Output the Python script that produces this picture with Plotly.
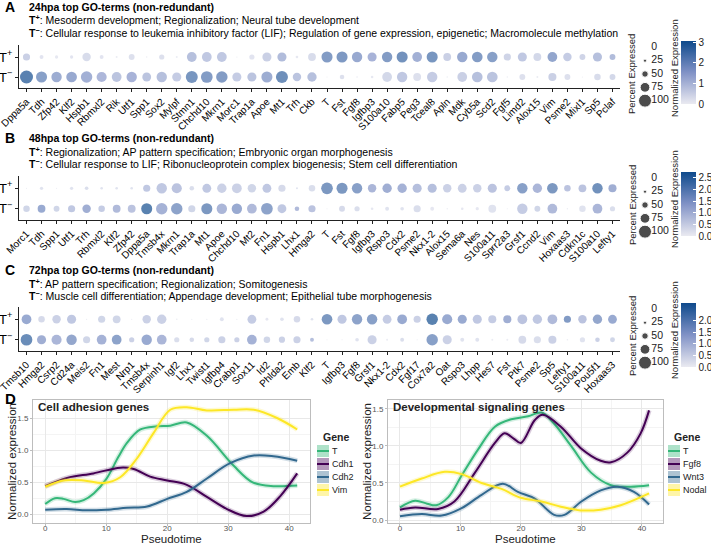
import plotly.graph_objects as go

FONT = "Liberation Sans, Arial, sans-serif"
W, H = 711, 546

# ---- panel A: 24hpa ----
genes_24 = ["Dppa5a", "Tdh", "Zfp42", "Klf2", "Hspb1", "Rbmxl2", "Rik", "Utf1", "Spp1", "Sox2",
            "Mylpf", "Stmn1", "Chchd10", "Mkrn1", "Morc1", "Trap1a", "Apoe", "Mt1", "Trh", "Ckb",
            "T", "Fst", "Fgf8", "Igfbp3", "S100a10", "Fabp5", "Peg3", "Tceal8", "Apln", "Mdk",
            "Cyb5a", "Scd2", "Fgf5", "Limd2", "Alox15", "Vim", "Psme2", "Mixl1", "Sp5", "Pclaf"]
expr_24_pos = [0.8, 0.3, 0.2, 0.3, 0.5, 0.3, 0.1, 0.4, 0.1, 0.4,
               0.1, 1.2, 1.0, 1.0, 0.1, 0.3, 0.8, 1.3, 0.2, 0.5,
               2.2, 2.3, 1.8, 1.5, 2.2, 2.5, 1.6, 2.4, 0.8, 1.8,
               2.2, 2.1, 0.7, 1.0, 0.6, 1.9, 0.9, 0.7, 1.2, 1.3]
pct_24_pos = [55, 30, 25, 25, 65, 30, 15, 45, 10, 40,
              15, 75, 75, 75, 5, 40, 70, 70, 20, 60,
              85, 85, 80, 70, 80, 85, 75, 85, 60, 80,
              82, 80, 55, 70, 60, 75, 65, 45, 70, 45]
expr_24_neg = [3.0, 2.1, 1.7, 1.8, 1.6, 1.4, 1.1, 1.5, 1.1, 1.2,
               0.9, 2.4, 2.2, 2.2, 0.9, 1.1, 1.7, 2.6, 1.1, 1.2,
               0.0, 0.4, 0.1, 0.2, 0.6, 1.0, 0.4, 0.9, 0.1, 0.8,
               1.2, 1.1, 0.1, 0.4, 0.1, 0.8, 0.4, 0.05, 0.5, 0.6]
pct_24_neg = [100, 85, 80, 82, 88, 78, 75, 80, 68, 80,
              70, 92, 90, 88, 70, 70, 85, 92, 65, 72,
              2, 35, 12, 20, 75, 80, 60, 80, 10, 75,
              82, 82, 10, 45, 15, 62, 45, 5, 50, 45]

# ---- panel B: 48hpa ----
genes_48 = ["Morc1", "Tdh", "Spp1", "Utf1", "Trh", "Rbmxl2", "Klf2", "Zfp42", "Dppa5a", "Tmsb4x",
            "Mkrn1", "Trap1a", "Mt1", "Apoe", "Chchd10", "Mt2", "Fn1", "Hspb1", "Lhx1", "Hmga2",
            "T", "Fst", "Fgf8", "Igfbp3", "Rspo3", "Cdx2", "Psme2", "Nkx1\u20112", "Alox15", "Sema6a",
            "Nes", "S100a11", "Sprr2a3", "Grsf1", "Ccnd2", "Vim", "Hoxaas3", "Cdkn1c", "S100a10", "Lefty1"]
expr_48_pos = [0.05, 0.3, 0.05, 0.3, 0.4, 0.3, 0.3, 0.3, 0.9, 0.9,
               1.0, 0.4, 0.9, 0.7, 0.7, 0.6, 0.9, 0.5, 0.3, 0.4,
               2.1, 2.1, 1.9, 1.3, 1.5, 1.4, 1.1, 1.1, 0.7, 0.7,
               0.7, 1.0, 0.8, 1.9, 1.3, 2.1, 1.0, 1.0, 2.3, 1.5]
pct_48_pos = [5, 25, 5, 25, 28, 20, 20, 20, 55, 80,
              78, 35, 68, 72, 75, 65, 68, 55, 15, 50,
              90, 85, 80, 65, 72, 72, 70, 70, 65, 68,
              65, 70, 45, 80, 72, 82, 50, 60, 80, 62]
expr_48_neg = [0.6, 1.6, 0.6, 0.9, 1.5, 0.8, 1.2, 1.0, 2.7, 1.4,
               1.8, 0.6, 2.1, 1.3, 1.6, 1.2, 1.8, 0.9, 1.2, 1.0,
               0.0, 0.5, 0.4, 0.2, 0.3, 0.3, 0.4, 0.2, 0.1, 0.2,
               0.2, 0.3, 0.05, 0.8, 0.6, 1.2, 0.1, 0.3, 1.3, 0.4]
pct_48_neg = [50, 60, 45, 55, 65, 50, 60, 60, 85, 88,
              88, 55, 85, 80, 80, 75, 90, 68, 35, 55,
              3, 45, 40, 20, 30, 28, 55, 30, 10, 20,
              25, 60, 5, 80, 45, 75, 10, 50, 75, 40]

# ---- panel C: 72hpa ----
genes_72 = ["Tmsb10", "Hmga2", "Csrp2", "Cd24a", "Meis2", "Fn1", "Mest", "Nrp1", "Tmsb4x", "Serpinh1",
            "Igf2", "Lhx1", "Twist1", "Igfbp4", "Crabp1", "Sox11", "Id2", "Phlda2", "Emb", "Klf2",
            "T", "Igfbp3", "Fgf8", "Grsf1", "Nkx1\u20112", "Cdx2", "Fgf17", "Cox7a2", "Oat", "Rspo3",
            "Lhpp", "Hes7", "Fst", "Ptk7", "Psme2", "Sp5", "Lefty1", "S100a11", "Pou5f1", "Hoxaas3"]
expr_72_pos = [1.6, 0.5, 0.7, 0.9, 0.1, 0.6, 0.6, 0.05, 0.7, 0.7,
               0.1, 0.05, 0.1, 0.3, 0.1, 0.8, 0.2, 0.3, 0.5, 0.3,
               2.1, 0.9, 1.8, 1.9, 0.8, 1.6, 0.7, 2.7, 1.6, 1.6,
               0.9, 0.8, 1.5, 1.0, 0.9, 1.2, 2.0, 1.0, 1.7, 1.6]
pct_72_pos = [75, 50, 65, 70, 10, 55, 60, 5, 65, 72,
              12, 5, 10, 30, 10, 68, 22, 28, 50, 20,
              82, 70, 80, 80, 68, 75, 55, 88, 78, 70,
              70, 62, 62, 75, 72, 75, 55, 65, 72, 68]
expr_72_neg = [2.4, 1.5, 1.3, 1.7, 0.6, 1.4, 1.8, 0.7, 1.6, 1.3,
               0.4, 0.5, 0.6, 0.7, 0.7, 1.4, 0.6, 0.7, 0.7, 1.1,
               0.0, 0.05, 0.3, 0.7, 0.1, 0.4, 0.05, 1.9, 0.7, 0.3,
               0.3, 0.1, 0.1, 0.5, 0.4, 0.7, 0.1, 0.3, 0.7, 0.6]
pct_72_neg = [90, 70, 78, 80, 55, 75, 75, 40, 80, 75,
              40, 35, 40, 55, 40, 75, 50, 48, 55, 30,
              2, 5, 28, 70, 15, 30, 8, 88, 70, 30,
              30, 15, 15, 60, 55, 62, 12, 40, 35, 38]

pct_legend = [0, 25, 50, 75, 100]

# ---- panel D: smoothed trajectories ----
adh_T_t = [0, 1.6, 3, 4.9, 6.3, 8, 10, 12, 13.4, 15.6, 18.3, 20.5, 23.2, 26.5, 30.9, 34, 37.4, 41.3]
adh_T_v = [0.16, 0.25, 0.24, 0.19, 0.22, 0.33, 0.55, 0.9, 1.12, 1.33, 1.38, 1.39, 1.44, 1.23, 0.76, 0.5, 0.44, 0.45]
adh_Cdh1_t = [0, 3.6, 7.9, 12.3, 14.5, 17.2, 20, 23.2, 26.5, 29.8, 33, 35.8, 38.5, 41.3]
adh_Cdh1_v = [0.44, 0.57, 0.64, 0.73, 0.71, 0.59, 0.53, 0.46, 0.27, 0.08, -0.03, 0.04, 0.28, 0.64]
adh_Cdh2_t = [0, 3.5, 6.8, 10, 13.4, 16.7, 20, 23.2, 26.5, 30.3, 34.2, 37.4, 41.3]
adh_Cdh2_v = [0.07, 0.08, 0.06, 0.07, 0.1, 0.12, 0.24, 0.35, 0.56, 0.8, 0.92, 0.91, 0.84]
adh_Vim_t = [0, 3, 6.3, 9.6, 12.3, 15, 17.8, 20.5, 23.2, 26.5, 30.9, 34.2, 38, 41.3]
adh_Vim_v = [0.43, 0.53, 0.53, 0.49, 0.58, 0.87, 1.28, 1.64, 1.68, 1.63, 1.64, 1.64, 1.51, 1.33]

sig_T_t = [0, 2.5, 4.5, 6, 8, 10.2, 12.9, 15.7, 18.4, 21.2, 23.4, 25.5, 28.3, 31.6, 34.9, 38.2, 41.2]
sig_T_v = [0.17, 0.26, 0.22, 0.2, 0.31, 0.6, 0.95, 1.26, 1.36, 1.4, 1.45, 1.3, 1.0, 0.64, 0.47, 0.45, 0.47]
sig_Fgf8_t = [0, 2.5, 6.3, 9, 12.4, 15.7, 17.3, 18.8, 20, 22.3, 23.6, 26.6, 29.9, 33.2, 34.9, 37.6, 39.8, 41.2]
sig_Fgf8_v = [0.14, 0.17, 0.15, 0.25, 0.64, 1.04, 1.17, 1.1, 1.04, 1.35, 1.42, 1.26, 0.97, 0.8, 0.78, 0.91, 1.17, 1.48]
sig_Wnt3_t = [0, 3.6, 6.9, 10.2, 13.5, 17, 19.5, 22.3, 25.5, 27.2, 30, 33.2, 36, 38.7, 41.2]
sig_Wnt3_v = [0.05, 0.08, 0.06, 0.16, 0.34, 0.49, 0.38, 0.29, 0.07, 0.07, 0.25, 0.4, 0.45, 0.38, 0.21]
sig_Nodal_t = [0, 3.6, 7.4, 10.2, 13.5, 16.8, 20, 23.4, 26.6, 29.9, 33.2, 36.5, 41.2]
sig_Nodal_v = [0.45, 0.56, 0.65, 0.62, 0.5, 0.42, 0.3, 0.25, 0.18, 0.13, 0.14, 0.2, 0.36]

GREEN, PURPLE, BLUE, YELLOW = "#35B779", "#440154", "#31688E", "#FDE725"
SCALE = [[0, "#EAEAF1"], [0.5, "#8192C6"], [1, "#0E4A8C"]]
SIZEREF = 100 / 13


def px(x):
    return x / W


def py(y):
    return 1 - y / H


fig = go.Figure()
layout = dict(width=W, height=H, margin=dict(l=0, r=0, t=0, b=0, autoexpand=False),
              paper_bgcolor="white", plot_bgcolor="white", showlegend=False,
              font=dict(family=FONT, color="black"))
annotations, shapes = [], []

dot_panels = [
    ("A", "24hpa", genes_24, expr_24_pos, expr_24_neg, pct_24_pos, pct_24_neg,
     "Mesoderm development; Regionalization; Neural tube development",
     "Cellular response to leukemia inhibitory factor (LIF); Regulation of gene expression, epigenetic; Macromolecule methylation",
     0, 45, 88, 3.05, [0, 1, 2, 3], "d"),
    ("B", "48hpa", genes_48, expr_48_pos, expr_48_neg, pct_48_pos, pct_48_neg,
     "Regionalization; AP pattern specification; Embryonic organ morphogenesis",
     "Cellular response to LIF; Ribonucleoprotein complex biogenesis; Stem cell differentiation",
     131, 176, 220, 2.75, [0, 0.5, 1, 1.5, 2, 2.5], ".1f"),
    ("C", "72hpa", genes_72, expr_72_pos, expr_72_neg, pct_72_pos, pct_72_neg,
     "AP pattern specification; Regionalization; Somitogenesis",
     "Muscle cell differentiation; Appendage development; Epithelial tube morphogenesis",
     263, 307, 351, 2.75, [0, 0.5, 1, 1.5, 2], ".1f"),
]

for i, (letter, stage, genes, vpos, vneg, ppos, pneg, go_pos, go_neg,
        hy, top, bottom, cmax, cticks, cfmt) in enumerate(dot_panels):
    n = i + 1
    xa, ya = f"x{n}", f"y{n}"
    ca = "coloraxis" if n == 1 else f"coloraxis{n}"
    fig.add_trace(go.Scatter(
        x=genes + genes, y=["pos"] * len(genes) + ["neg"] * len(genes),
        mode="markers", xaxis=xa, yaxis=ya,
        marker=dict(size=ppos + pneg, sizemode="diameter", sizeref=SIZEREF, sizemin=0.6,
                    color=vpos + vneg, coloraxis=ca, line=dict(width=0))))
    layout[f"xaxis{n}"] = dict(domain=[px(19), px(620)], anchor=ya, type="category",
                               categoryarray=genes, range=[-0.5, len(genes) - 0.5],
                               showline=True, linecolor="#222", linewidth=1.2,
                               ticks="outside", ticklen=3, tickcolor="#222",
                               tickangle=-45, tickfont=dict(size=10, color="black"),
                               showgrid=False, zeroline=False, automargin=False)
    layout[f"yaxis{n}"] = dict(domain=[py(bottom), py(top)], anchor=xa, type="category",
                               categoryarray=["neg", "pos"], range=[-0.55, 1.6],
                               tickvals=["neg", "pos"], ticktext=["T<sup>\u2212</sup>", "T<sup>+</sup>"],
                               showline=True, linecolor="#222", linewidth=1.2,
                               ticks="outside", ticklen=3, tickcolor="#222",
                               tickfont=dict(size=13, color="black"), showgrid=False, zeroline=False,
                               automargin=False)
    # colour bar
    layout[ca] = dict(cmin=0, cmax=cmax, colorscale=SCALE,
                      colorbar=dict(x=px(681), xanchor="left", xpad=0, ypad=0,
                                    y=py((top - 4 + bottom + 16) / 2), yanchor="middle",
                                    len=bottom + 16 - (top - 4), lenmode="pixels",
                                    thickness=15, outlinewidth=0, ticks="inside",
                                    tickcolor="white", ticklen=3,
                                    tickvals=cticks, tickformat=cfmt,
                                    tickfont=dict(size=10, color="#222")))
    # size legend
    lx, ly = f"x{n + 3}", f"y{n + 3}"
    cy = top + 29
    fig.add_trace(go.Scatter(
        x=[0.5] * 5, y=pct_legend, mode="markers", xaxis=lx, yaxis=ly, cliponaxis=False,
        marker=dict(size=pct_legend, sizemode="diameter", sizeref=SIZEREF, sizemin=1.5, color="black")))
    fig.add_trace(go.Scatter(
        x=[0.95] * 5, y=pct_legend, mode="text", xaxis=lx, yaxis=ly, cliponaxis=False,
        text=[str(p) for p in pct_legend], textposition="middle right",
        textfont=dict(size=10.5, color="#222")))
    layout[f"xaxis{n + 3}"] = dict(domain=[px(638), px(652)], anchor=ly, range=[0, 1], visible=False)
    layout[f"yaxis{n + 3}"] = dict(domain=[py(cy + 32), py(cy - 32)], anchor=lx,
                                   range=[110, -10], visible=False)
    annotations.append(dict(x=px(632), y=py(cy), xref="paper", yref="paper", text="Percent Expressed",
                            xanchor="center", yanchor="middle",
                            textangle=-90, showarrow=False, font=dict(size=9.5, color="#222")))
    annotations.append(dict(x=px(674), y=py(cy - 6), xref="paper", yref="paper", text="Normalized Expression",
                            xanchor="center", yanchor="middle",
                            textangle=-90, showarrow=False, font=dict(size=9.5, color="#222")))
    # headers
    annotations += [
        dict(x=px(3), y=py(hy + 7), text=f"<b>{letter}</b>", font=dict(size=14)),
        dict(x=px(27), y=py(hy + 7), text=f"<b>{stage} top GO-terms (non-redundant)</b>", font=dict(size=10.5)),
        dict(x=px(27), y=py(hy + 20), text=f"<b>T<sup>+</sup></b>: {go_pos}", font=dict(size=10.5)),
        dict(x=px(27), y=py(hy + 32), text=f"<b>T<sup>\u2212</sup></b>: {go_neg}", font=dict(size=10.5)),
    ]
    for a in annotations[-4:]:
        a.update(xref="paper", yref="paper", xanchor="left", yanchor="middle", showarrow=False)

# ---- panel D ----
line_panels = [
    ("Cell adhesion genes", 7, 33, 310, [-2, 43.4], [-0.139, 1.793],
     [("T", adh_T_t, adh_T_v, GREEN), ("Cdh1", adh_Cdh1_t, adh_Cdh1_v, PURPLE),
      ("Cdh2", adh_Cdh2_t, adh_Cdh2_v, BLUE), ("Vim", adh_Vim_t, adh_Vim_v, YELLOW)], 317),
    ("Developmental signaling genes", 8, 388, 663, [-1.98, 43.5], [-0.04, 1.62],
     [("T", sig_T_t, sig_T_v, GREEN), ("Fgf8", sig_Fgf8_t, sig_Fgf8_v, PURPLE),
      ("Wnt3", sig_Wnt3_t, sig_Wnt3_v, BLUE), ("Nodal", sig_Nodal_t, sig_Nodal_v, YELLOW)], 668),
]

for title, n, x0, x1, xr, yr, series, lgx in line_panels:
    xa, ya = f"x{n}", f"y{n}"
    for name, t, v, col in series:
        fig.add_trace(go.Scatter(x=t, y=v, mode="lines", xaxis=xa, yaxis=ya,
                                 line=dict(color=col, width=5, shape="spline", smoothing=1.0), opacity=0.2))
        fig.add_trace(go.Scatter(x=t, y=v, mode="lines", xaxis=xa, yaxis=ya, name=name,
                                 line=dict(color=col, width=2, shape="spline", smoothing=1.0)))
    common = dict(showline=True, mirror=True, linecolor="#BDBDBD", linewidth=1,
                  ticks="outside", ticklen=2, tickcolor="#BDBDBD",
                  tickfont=dict(size=8, color="#555"), showgrid=True, gridcolor="#E8E8E8",
                  gridwidth=1, zeroline=False, automargin=False)
    layout[f"xaxis{n}"] = dict(domain=[px(x0), px(x1)], anchor=ya, range=xr, tickvals=[0, 10, 20, 30, 40],
                               minor=dict(tickvals=[5, 15, 25, 35], showgrid=True, gridcolor="#F4F4F4"),
                               ticklabelstandoff=-5, **common)
    layout[f"yaxis{n}"] = dict(domain=[py(523), py(400)], anchor=xa, range=yr,
                               tickvals=[0, 0.5, 1, 1.5], ticktext=["0.0", "0.5", "1.0", "1.5"],
                               minor=dict(tickvals=[0.25, 0.75, 1.25], showgrid=True, gridcolor="#F4F4F4"),
                               **common)
    annotations.append(dict(x=px(x0 + 3), y=py(407), xref="paper", yref="paper", xanchor="left",
                            yanchor="middle", text=f"<b>{title}</b>", showarrow=False,
                            font=dict(size=11.5, color="#222")))
    annotations.append(dict(x=px((x0 + x1) / 2), y=py(539), xref="paper", yref="paper",
                            xanchor="center", yanchor="middle",
                            text="Pseudotime", showarrow=False, font=dict(size=11.5, color="#222")))
    annotations.append(dict(x=px(x0 - 21), y=py(462), xref="paper", yref="paper", textangle=-90,
                            xanchor="center", yanchor="middle",
                            text="Normalized expression", showarrow=False, font=dict(size=11.5, color="#222")))
    # legend
    annotations.append(dict(x=px(lgx + 4), y=py(437), xref="paper", yref="paper", xanchor="left",
                            yanchor="middle", text="<b>Gene</b>", showarrow=False,
                            font=dict(size=10.5, color="#222")))
    for k, (name, t, v, col) in enumerate(series):
        yc = 451 + 13 * k
        shapes.append(dict(type="rect", xref="paper", yref="paper", x0=px(lgx), x1=px(lgx + 12),
                           y0=py(yc + 6), y1=py(yc - 6), fillcolor=col, opacity=0.4, line=dict(width=0)))
        shapes.append(dict(type="line", xref="paper", yref="paper", x0=px(lgx), x1=px(lgx + 12),
                           y0=py(yc), y1=py(yc), line=dict(color=col, width=2)))
        annotations.append(dict(x=px(lgx + 13), y=py(yc), xref="paper", yref="paper", xanchor="left",
                                yanchor="middle", text=name, showarrow=False,
                                font=dict(size=9, color="#222")))

annotations.append(dict(x=px(3), y=py(398), xref="paper", yref="paper", xanchor="left", yanchor="middle",
                        text="<b>D</b>", showarrow=False, font=dict(size=15)))

layout["annotations"] = annotations
layout["shapes"] = shapes
fig.update_layout(**layout)
fig.write_html("out.html", config={"displayModeBar": False},
               post_script="document.body.style.margin = '0';")
